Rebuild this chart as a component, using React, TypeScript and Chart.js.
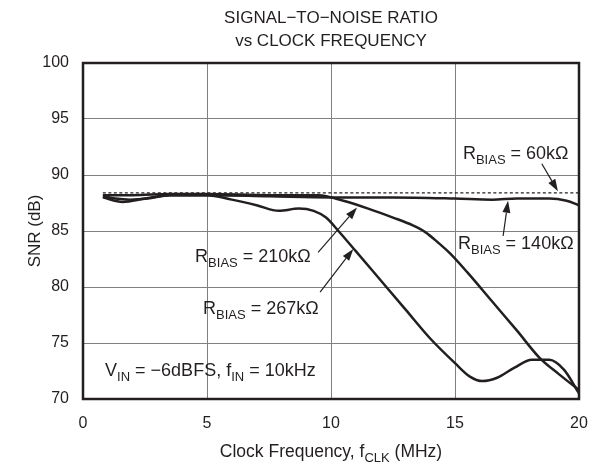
import React, { useEffect, useRef } from 'react';
import { Chart, registerables } from 'chart.js';

Chart.register(...registerables);

const FONT = '"Liberation Sans", Arial, Helvetica, sans-serif';
const INK = '#231f20';

// ---- data ----
const titleLines = ['SIGNAL\u2212TO\u2212NOISE RATIO', 'vs CLOCK FREQUENCY'];
const xTitle: [string, boolean][] = [['Clock Frequency, f', false], ['CLK', true], [' (MHz)', false]];
const yTitle = 'SNR (dB)';

const freq60 = [0.8, 5, 10, 15, 20];
const snr60 = [88.4, 88.4, 88.4, 88.4, 88.4];

const freq140 = [0.8, 1.3, 1.9, 2.6, 3.5, 5, 7.5, 10, 12.5, 15, 16.5, 17.5, 18.8, 19.5, 20];
const snr140 = [88.1, 87.9, 87.8, 87.9, 88.2, 88.2, 88.1, 88.0, 88.0, 87.9, 87.8, 87.9, 87.9, 87.7, 87.3];

const freq210 = [0.8, 2, 3.5, 5, 7.5, 9.5, 10.5, 11.5, 12.5, 13.3, 13.8, 14.3, 14.8, 15.5, 16.5, 17.5, 18.4, 19.2, 20];
const snr210 = [88.2, 88.2, 88.3, 88.3, 88.2, 88.2, 87.7, 87.0, 86.2, 85.5, 84.9, 84.0, 83.0, 81.3, 78.7, 76.1, 73.7, 72.2, 70.8];

const freq267 = [0.8, 1.6, 2.5, 3.5, 5, 6, 7, 7.9, 8.7, 9.3, 9.8, 10.3, 11, 12, 13, 14, 15, 15.6, 16.1, 16.7, 17.4, 18.1, 18.8, 19.4, 20];
const snr267 = [88.0, 87.6, 87.9, 88.2, 88.2, 87.8, 87.3, 86.8, 87.0, 86.8, 86.2, 85.0, 83.2, 80.6, 78.0, 75.4, 73.2, 72.0, 71.6, 71.9, 72.8, 73.5, 73.5, 72.6, 70.5];

type Part = [string, boolean];
const labelTexts: Part[][] = [
  [['R', false], ['BIAS', true], [' = 60k\u03A9', false]],
  [['R', false], ['BIAS', true], [' = 140k\u03A9', false]],
  [['R', false], ['BIAS', true], [' = 210k\u03A9', false]],
  [['R', false], ['BIAS', true], [' = 267k\u03A9', false]],
  [['V', false], ['IN', true], [' = \u22126dBFS, f', false], ['IN', true], [' = 10kHz', false]],
];
// label anchor (left, baseline) in data coordinates
const labelX = [15.32, 15.12, 4.52, 4.84, 0.89];
const labelY = [91.43, 83.39, 82.23, 77.6, 72.07];

// arrows: from -> to (tip), data coordinates
const arrowFromX = [18.5, 16.94, 9.48, 9.56];
const arrowFromY = [91.0, 84.55, 83.1, 79.55];
const arrowToX = [19.15, 17.14, 11.05, 10.9];
const arrowToY = [88.55, 87.7, 87.1, 83.4];

const toXY = (xs: number[], ys: number[]) => xs.map((x, i) => ({ x, y: ys[i] }));

function drawRich(ctx: CanvasRenderingContext2D, parts: Part[], x: number, y: number, size: number, align: 'left' | 'center' = 'left') {
  const subSize = Math.round(size * 0.72);
  const widths = parts.map(([t, sub]) => {
    ctx.font = `${sub ? subSize : size}px ${FONT}`;
    return ctx.measureText(t).width;
  });
  const total = widths.reduce((a, b) => a + b, 0);
  let cx = align === 'center' ? x - total / 2 : x;
  ctx.textAlign = 'left';
  ctx.textBaseline = 'alphabetic';
  parts.forEach(([t, sub], i) => {
    ctx.font = `${sub ? subSize : size}px ${FONT}`;
    ctx.fillText(t, cx, sub ? y + size * 0.28 : y);
    cx += widths[i];
  });
}

const overlay = {
  id: 'overlay',
  beforeDatasetsDraw(chart: any) {
    const { ctx, chartArea: a } = chart;
    ctx.save();
    ctx.strokeStyle = INK;
    ctx.lineWidth = 2.5;
    ctx.strokeRect(a.left, a.top, a.right - a.left, a.bottom - a.top);
    ctx.restore();
  },
  afterDraw(chart: any) {
    const { ctx, chartArea: a } = chart;
    const xs = chart.scales.x;
    const ys = chart.scales.y;
    const cx = (a.left + a.right) / 2;
    ctx.save();
    ctx.fillStyle = INK;
    ctx.strokeStyle = INK;
    // title
    ctx.font = `17px ${FONT}`;
    ctx.textAlign = 'center';
    ctx.textBaseline = 'alphabetic';
    ctx.fillText(titleLines[0], cx, 23);
    ctx.fillText(titleLines[1], cx, 46);
    // x title
    drawRich(ctx, xTitle, cx, 457, 17.5, 'center');
    // y title
    ctx.save();
    ctx.translate(40, (a.top + a.bottom) / 2);
    ctx.rotate(-Math.PI / 2);
    ctx.font = `17px ${FONT}`;
    ctx.textAlign = 'center';
    ctx.fillText(yTitle, 0, 0);
    ctx.restore();
    // labels
    labelTexts.forEach((parts, i) => {
      drawRich(ctx, parts, xs.getPixelForValue(labelX[i]), ys.getPixelForValue(labelY[i]), 18);
    });
    // arrows
    arrowFromX.forEach((_, i) => {
      const x1 = xs.getPixelForValue(arrowFromX[i]);
      const y1 = ys.getPixelForValue(arrowFromY[i]);
      const x2 = xs.getPixelForValue(arrowToX[i]);
      const y2 = ys.getPixelForValue(arrowToY[i]);
      const ang = Math.atan2(y2 - y1, x2 - x1);
      const hl = 12, hw = 4;
      const bx = x2 - hl * Math.cos(ang);
      const by = y2 - hl * Math.sin(ang);
      ctx.lineWidth = 1.2;
      ctx.beginPath();
      ctx.moveTo(x1, y1);
      ctx.lineTo(bx, by);
      ctx.stroke();
      ctx.beginPath();
      ctx.moveTo(x2, y2);
      ctx.lineTo(bx + hw * Math.sin(ang), by - hw * Math.cos(ang));
      ctx.lineTo(bx - hw * Math.sin(ang), by + hw * Math.cos(ang));
      ctx.closePath();
      ctx.fill();
    });
    ctx.restore();
  },
};

export default function App() {
  const ref = useRef<HTMLCanvasElement | null>(null);
  useEffect(() => {
    document.body.style.margin = '0';
    const canvas = ref.current!;
    const lineDs = (data: any, dashed = false) => ({
      data,
      borderColor: INK,
      backgroundColor: INK,
      borderWidth: dashed ? 1.2 : 2.5,
      borderDash: dashed ? [3, 2.5] : [],
      pointRadius: 0,
      fill: false,
      cubicInterpolationMode: 'monotone' as const,
    });
    const chart = new Chart(canvas, {
      type: 'line',
      data: {
        datasets: [
          lineDs(toXY(freq60, snr60), true),
          lineDs(toXY(freq140, snr140)),
          lineDs(toXY(freq210, snr210)),
          lineDs(toXY(freq267, snr267)),
        ],
      },
      options: {
        animation: false,
        responsive: false,
        layout: { padding: { left: 0, right: 11, top: 63, bottom: 0 } },
        plugins: { legend: { display: false }, tooltip: { enabled: false }, title: { display: false } },
        scales: {
          x: {
            type: 'linear',
            min: 0,
            max: 20,
            ticks: { stepSize: 5, padding: 15, color: INK, font: { family: FONT, size: 16 }, maxRotation: 0 },
            grid: { color: '#808080', lineWidth: 1, drawTicks: false },
            border: { display: false },
            afterFit: (s: any) => { s.height = 71; s.paddingRight = 0; s.paddingLeft = 0; },
          },
          y: {
            type: 'linear',
            min: 70,
            max: 100,
            ticks: { stepSize: 5, padding: 14, color: INK, font: { family: FONT, size: 16 } },
            grid: { color: '#808080', lineWidth: 1, drawTicks: false },
            border: { display: false },
            afterFit: (s: any) => { s.width = 83; s.paddingTop = 0; s.paddingBottom = 0; },
          },
        },
      },
      plugins: [overlay],
    });
    return () => chart.destroy();
  }, []);
  return (
    <div style={{ width: 590, height: 470, background: '#fff' }}>
      <canvas ref={ref} width={590} height={470} style={{ display: 'block' }} />
    </div>
  );
}
